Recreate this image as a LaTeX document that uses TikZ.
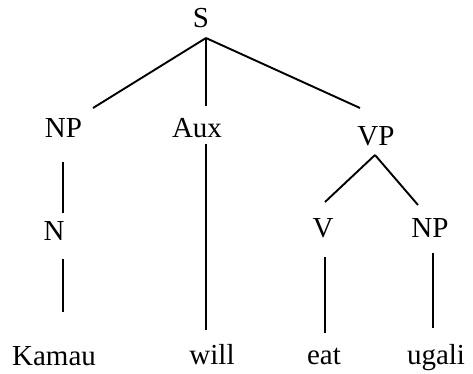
\documentclass[tikz,border=0pt]{standalone}
\usepackage{fontspec}
\setmainfont{Liberation Serif}
\begin{document}
\begin{tikzpicture}[x=1pt,y=-1pt,
  lbl/.style={anchor=base,inner sep=0pt,font=\fontsize{29}{34}\selectfont},
  edge/.style={line width=1.9pt}]
\useasboundingbox (0,0) rectangle (473,373);
% labels
\node[lbl] (S) at (201,27) {S};
\node[lbl] (NP1) at (63.5,137) {NP};
\node[lbl] (Aux) at (197,137) {Aux};
\node[lbl] (VP) at (376,145) {VP};
\node[lbl] (N) at (54,240) {N};
\node[lbl] (V) at (323,237) {V};
\node[lbl] (NP2) at (430,237) {NP};
\node[lbl] (Kamau) at (54,365) {Kamau};
\node[lbl] (will) at (212,364) {will};
\node[lbl] (eat) at (324,364) {eat};
\node[lbl] (ugali) at (436,364) {ugali};
% connector ends
\coordinate (S-b) at (206,38);
\coordinate (NP1-t) at (93,108);
\coordinate (Aux-t) at (206,106);
\coordinate (VP-t) at (360,108);
\coordinate (NP1-b) at (63,162);
\coordinate (N-t) at (63,213);
\coordinate (N-b) at (63,259);
\coordinate (Kamau-t) at (63,312);
\coordinate (Aux-b) at (206,144);
\coordinate (will-t) at (206,330);
\coordinate (VP-b) at (375,155);
\coordinate (V-t) at (325,202);
\coordinate (NP2-t) at (418,205);
\coordinate (V-b) at (325,257);
\coordinate (eat-t) at (325,333);
\coordinate (NP2-b) at (433,253);
\coordinate (ugali-t) at (433,328);
% connectors
\draw[edge] (S-b) -- (NP1-t);
\draw[edge] (S-b) -- (Aux-t);
\draw[edge] (S-b) -- (VP-t);
\draw[edge] (NP1-b) -- (N-t);
\draw[edge] (N-b) -- (Kamau-t);
\draw[edge] (Aux-b) -- (will-t);
\draw[edge] (VP-b) -- (V-t);
\draw[edge] (VP-b) -- (NP2-t);
\draw[edge] (V-b) -- (eat-t);
\draw[edge] (NP2-b) -- (ugali-t);
\end{tikzpicture}
\end{document}
